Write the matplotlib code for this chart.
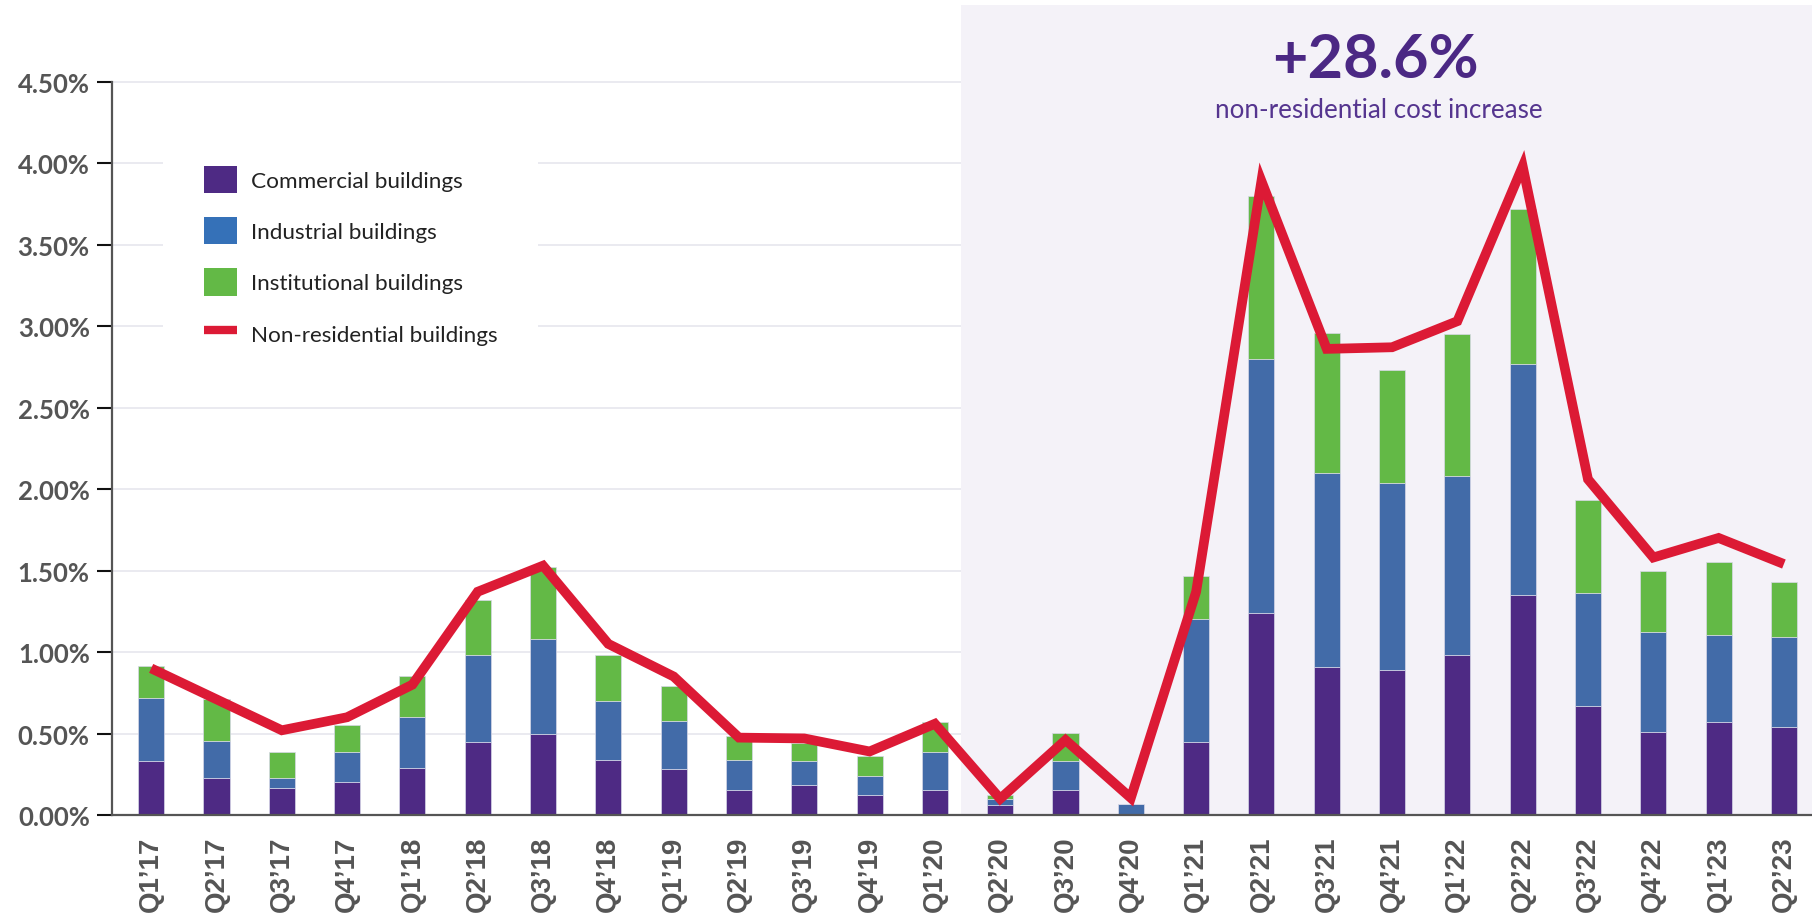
#%%

# Imports

import numpy as np
import matplotlib.pyplot as plt
from matplotlib.patches import Patch
from matplotlib.lines import Line2D

#%%

# Quarterly cost change data (percent)

quarters = ["Q1\u201917", "Q2\u201917", "Q3\u201917", "Q4\u201917",
            "Q1\u201918", "Q2\u201918", "Q3\u201918", "Q4\u201918",
            "Q1\u201919", "Q2\u201919", "Q3\u201919", "Q4\u201919",
            "Q1\u201920", "Q2\u201920", "Q3\u201920", "Q4\u201920",
            "Q1\u201921", "Q2\u201921", "Q3\u201921", "Q4\u201921",
            "Q1\u201922", "Q2\u201922", "Q3\u201922", "Q4\u201922",
            "Q1\u201923", "Q2\u201923"]

commercial = [0.33, 0.23, 0.165, 0.20, 0.29, 0.45, 0.50, 0.34, 0.28,
              0.155, 0.185, 0.12, 0.155, 0.06, 0.155, 0.0, 0.45,
              1.24, 0.91, 0.89, 0.98, 1.35, 0.67, 0.51, 0.57, 0.54]

industrial = [0.39, 0.225, 0.065, 0.185, 0.31, 0.53, 0.58, 0.36, 0.295,
              0.18, 0.145, 0.12, 0.23, 0.04, 0.175, 0.065, 0.75,
              1.56, 1.19, 1.15, 1.10, 1.42, 0.69, 0.61, 0.535, 0.55]

institutional = [0.195, 0.26, 0.155, 0.165, 0.255, 0.34, 0.44, 0.28, 0.215,
                 0.15, 0.11, 0.12, 0.185, 0.02, 0.175, 0.0, 0.265,
                 1.00, 0.86, 0.69, 0.87, 0.95, 0.57, 0.38, 0.445, 0.34]

non_residential = [0.90, 0.71, 0.52, 0.60, 0.80, 1.37, 1.53, 1.05, 0.85,
                   0.475, 0.47, 0.39, 0.56, 0.10, 0.46, 0.105, 1.37,
                   3.89, 2.86, 2.87, 3.03, 3.98, 2.06, 1.58, 1.70, 1.54]

y_ticks = [0.0, 0.5, 1.0, 1.5, 2.0, 2.5, 3.0, 3.5, 4.0, 4.5]

#%%

# Colours

purple = "#4e2a84"
blue = "#426ba8"
green = "#63b946"
red = "#dc1a35"
shade = "#f4f2f8"
grey = "#555555"

#%%

# Building the figure

fig = plt.figure(figsize=(18.12, 9.2), dpi=100)
ax = fig.add_axes([0.0618, 0.113, 0.9382, 0.8805])

x = np.arange(len(quarters))
comm = np.array(commercial)
ind = np.array(industrial)
inst = np.array(institutional)

## Shaded period from Q2'20 onward

ax.axvspan(12.4, 26, color=shade, zorder=0.6, lw=0)

## Gridlines

for t in y_ticks[1:]:
    ax.axhline(t, color="#e6e6ee", lw=1.2, zorder=0.5)

## Stacked bars

bar_kw = dict(width=0.4, edgecolor="#d8d8e8", linewidth=0.5, zorder=2)
ax.bar(x, comm, color=purple, **bar_kw)
ax.bar(x, ind, bottom=comm, color=blue, **bar_kw)
ax.bar(x, inst, bottom=comm + ind, color=green, **bar_kw)

## Non-residential line

ax.plot(x, non_residential, color=red, lw=7, zorder=3,
        solid_joinstyle="miter", solid_capstyle="butt")

#%%

# Axes formatting

ax.set_xlim(-0.6, 25.43)
ax.set_ylim(0, 4.97)

ax.set_xticks(x, labels=quarters, rotation=90, fontfamily="Liberation Sans",
              fontweight="bold", fontsize=20, color=grey)
ax.set_yticks(y_ticks, labels=[f"{t:.2f}%" for t in y_ticks],
              fontfamily="Lato", fontweight="bold", fontsize=18.5, color=grey)

ax.tick_params(axis="x", length=0, pad=15)
ax.tick_params(axis="y", length=11, width=1.5, color="#111111", pad=5)

for side in ["top", "right"]:
    ax.spines[side].set_visible(False)
ax.spines["left"].set_bounds(0, 4.5)
ax.spines["left"].set_color(grey)
ax.spines["left"].set_linewidth(1.6)
ax.spines["bottom"].set_color(grey)
ax.spines["bottom"].set_linewidth(1.6)

#%%

# Legend

handles = [Patch(facecolor=purple, edgecolor="none"),
           Patch(facecolor="#3571b8", edgecolor="none"),
           Patch(facecolor=green, edgecolor="none"),
           Line2D([0], [0], color=red, lw=6, solid_capstyle="butt")]
labels = ["Commercial buildings", "Industrial buildings",
          "Institutional buildings", "Non-residential buildings"]

leg = fig.legend(handles, labels, loc="upper left",
                 bbox_to_anchor=(0.090, 0.863), borderaxespad=0,
                 frameon=True, facecolor="white", edgecolor="none",
                 framealpha=1, fancybox=False,
                 prop={"family": "Lato", "size": 16.2},
                 handlelength=1.49, handleheight=1.5, handletextpad=0.6,
                 labelspacing=1.06, borderpad=1.8)
for txt in leg.get_texts():
    txt.set_color("#222222")

#%%

# Headline annotation

fig.text(0.759, 0.935, "+28.6%", ha="center", va="center",
         fontfamily="Lato", fontweight="bold", fontsize=44, color="#4b2884")
fig.text(0.761, 0.880, "non-residential cost increase", ha="center",
         va="center", fontfamily="Lato", fontsize=18.7, color="#55358f")

#%%

fig.savefig("out.png", dpi=100)
